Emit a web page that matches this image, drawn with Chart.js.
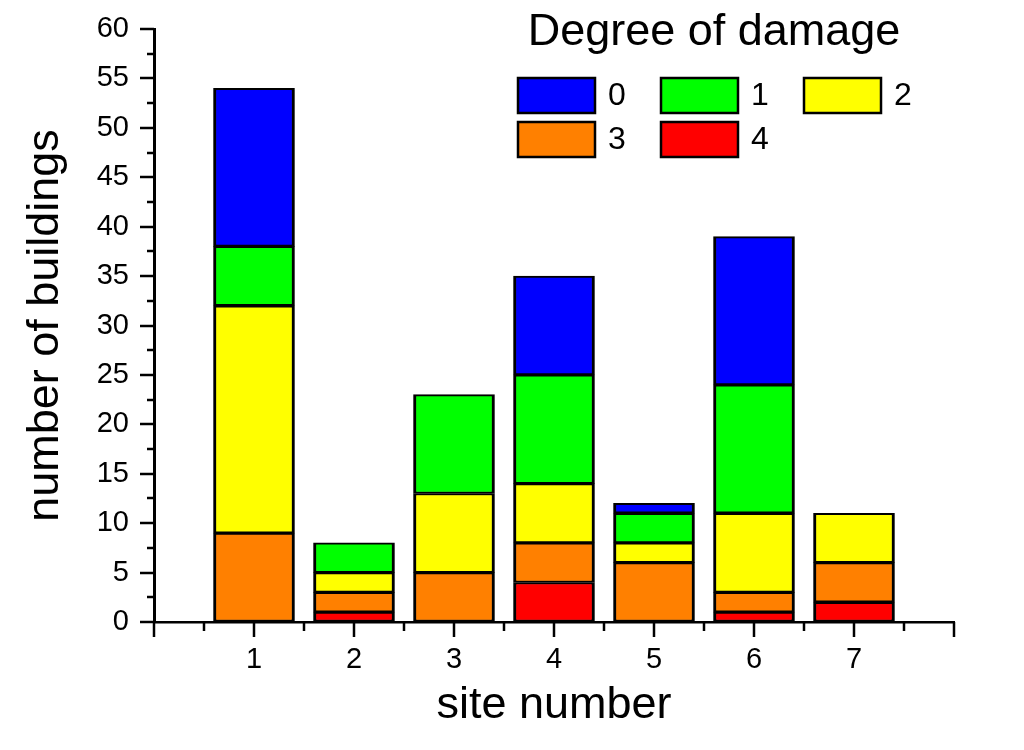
<!DOCTYPE html>
<html>
<head>
<meta charset="utf-8">
<title>Degree of damage by site</title>
<script src="https://cdn.jsdelivr.net/npm/chart.js"></script>
<style>
  html, body { margin: 0; padding: 0; background: #fff; }
  #chart { display: block; }
</style>
</head>
<body>
<canvas id="chart" width="1024" height="750"></canvas>
<script>
// site numbers, placed on a linear x axis running 0..8
const sites = [1, 2, 3, 4, 5, 6, 7];
// number of buildings per degree of damage
const degree0 = [16, 0, 0, 10, 1, 15, 0];
const degree1 = [6, 3, 10, 11, 3, 13, 0];
const degree2 = [23, 2, 8, 6, 2, 8, 5];
const degree3 = [9, 2, 5, 4, 6, 2, 4];
const degree4 = [0, 1, 0, 4, 0, 1, 2];
const degreeNames = ['0', '1', '2', '3', '4'];
const degreeColors = ['#0000ff', '#00ff00', '#ffff00', '#ff8000', '#ff0000'];
const xLabels = ['1', '2', '3', '4', '5', '6', '7'];
const legendTitle = 'Degree of damage';

const FONT = '"Liberation Sans", Arial, sans-serif';

function points(values) {
    return values.map((v, i) => ({ x: sites[i], y: v }));
}

// first dataset sits at the bottom of the stack
const series = [degree0, degree1, degree2, degree3, degree4];
const datasets = [4, 3, 2, 1, 0].map(d => ({
    label: degreeNames[d],
    data: points(series[d]),
    backgroundColor: degreeColors[d],
    borderColor: '#000',
    borderWidth: { top: 2, bottom: 2, left: 3, right: 3 },
    borderSkipped: false,
    barThickness: 81
}));

// major / minor tick marks drawn outward from the axes
const tickMarks = {
    id: 'tickMarks',
    afterDraw(chart) {
        const ctx = chart.ctx;
        const xs = chart.scales.x, ys = chart.scales.y;
        ctx.save();
        ctx.strokeStyle = '#000';
        ctx.lineWidth = 2.5;
        ys.ticks.forEach(t => {
            const y = Math.round(ys.getPixelForValue(t.value));
            const len = t.value % 5 === 0 ? 14 : 7;
            ctx.beginPath();
            ctx.moveTo(ys.right - len, y);
            ctx.lineTo(ys.right, y);
            ctx.stroke();
        });
        xs.ticks.forEach(t => {
            const x = Math.round(xs.getPixelForValue(t.value));
            const len = Number.isInteger(t.value) ? 15 : 9;
            ctx.beginPath();
            ctx.moveTo(x, xs.top);
            ctx.lineTo(x, xs.top + len);
            ctx.stroke();
        });
        ctx.restore();
    }
};

// legend laid out in a 3-column grid under its title
const gridLegend = {
    id: 'gridLegend',
    afterDraw(chart) {
        const ctx = chart.ctx;
        const cols = [517, 660, 803], rows = [77, 121];
        const bw = 79, bh = 37;
        ctx.save();
        ctx.fillStyle = '#000';
        ctx.font = '45px ' + FONT;
        ctx.textAlign = 'center';
        ctx.textBaseline = 'alphabetic';
        ctx.fillText(legendTitle, 714, 45);
        const items = chart.data.datasets.slice().sort((a, b) => a.label.localeCompare(b.label));
        ctx.font = '32px ' + FONT;
        ctx.textAlign = 'left';
        ctx.textBaseline = 'middle';
        items.forEach((ds, i) => {
            const x = cols[i % 3], y = rows[Math.floor(i / 3)];
            ctx.fillStyle = ds.backgroundColor;
            ctx.fillRect(x, y, bw, bh);
            ctx.strokeStyle = '#000';
            ctx.lineWidth = 2.5;
            ctx.strokeRect(x + 1, y + 1, bw - 2, bh - 2);
            ctx.fillStyle = '#000';
            ctx.fillText(ds.label, x + bw + 12, y + bh / 2 + 1);
        });
        ctx.restore();
    }
};

new Chart(document.getElementById('chart'), {
    type: 'bar',
    data: { datasets: datasets },
    options: {
        responsive: false,
        animation: false,
        layout: { padding: { top: 29, right: 70, left: 0, bottom: 0 } },
        plugins: { legend: { display: false }, tooltip: { enabled: false } },
        scales: {
            x: {
                type: 'linear',
                stacked: true,
                offset: false,
                min: 0,
                max: 8,
                afterFit(scale) {
                    scale.height = 128;
                    scale.paddingLeft = 0;
                    scale.paddingRight = 0;
                },
                grid: { drawOnChartArea: false, drawTicks: false, offset: false },
                border: { color: '#000', width: 2.5 },
                ticks: {
                    stepSize: 0.5,
                    autoSkip: false,
                    maxRotation: 0,
                    padding: 21,
                    color: '#000',
                    font: { family: FONT, size: 29 },
                    callback: v => (Number.isInteger(v) && v >= 1 && v <= 7) ? xLabels[v - 1] : ''
                },
                title: {
                    display: true,
                    text: 'site number',
                    color: '#000',
                    font: { family: FONT, size: 45 },
                    padding: { top: 0, bottom: 17 }
                }
            },
            y: {
                stacked: true,
                min: 0,
                max: 60,
                afterFit(scale) {
                    scale.width = 154;
                    scale.paddingTop = 0;
                    scale.paddingBottom = 0;
                },
                grid: { drawOnChartArea: false, drawTicks: false },
                border: { color: '#000', width: 3 },
                ticks: {
                    stepSize: 2.5,
                    autoSkip: false,
                    padding: 25,
                    color: '#000',
                    font: { family: FONT, size: 29 },
                    callback: v => v % 5 === 0 ? String(v) : ''
                },
                title: {
                    display: true,
                    text: 'number of buildings',
                    color: '#000',
                    font: { family: FONT, size: 45 },
                    padding: { top: 19, bottom: 0 }
                }
            }
        }
    },
    plugins: [tickMarks, gridLegend]
});
</script>
</body>
</html>
